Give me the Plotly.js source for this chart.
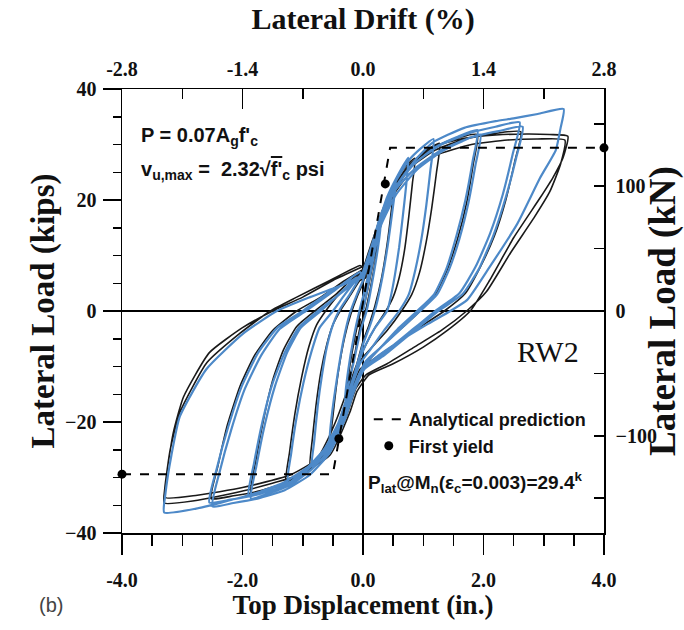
<!DOCTYPE html>
<html>
<head>
<meta charset="utf-8">
<script src="https://cdn.plot.ly/plotly-3.0.1.min.js"></script>
<style>html,body{margin:0;padding:0;background:#fff;}#chart{width:684px;height:630px;}</style>
</head>
<body>
<div id="chart"></div>
<script>
// ---------- data ----------
// Experimental response (black): top displacement (in.) and lateral load (kips)
const expX = [
  0, 0.1, 0.2, 0.27, 0.22, 0.12, 0.04, -0.05, -0.15, -0.27, -0.22, -0.12, -0.04, 0,
  0, 0.1, 0.2, 0.32, 0.42, 0.52, 0.48, 0.4, 0.3, 0.2, 0.1, 0, -0.1, -0.2, -0.32, -0.44, -0.54, -0.5, -0.41, -0.3, -0.2, -0.1, 0,
  0, 0.1, 0.22, 0.36, 0.5, 0.66, 0.86, 0.82, 0.76, 0.69, 0.6, 0.5, 0.38, 0.2, 0.05, -0.1, -0.25, -0.42, -0.6, -0.75, -0.88, -0.84, -0.78, -0.7, -0.6, -0.5, -0.38, -0.2, -0.05,
  0.05, 0.15, 0.3, 0.5, 0.75, 1.0, 1.27, 1.22, 1.14, 1.05, 0.94, 0.81, 0.64, 0.4, 0.15, -0.05, -0.2, -0.36, -0.55, -0.8, -1.05, -1.28, -1.22, -1.13, -1.02, -0.9, -0.77, -0.62, -0.4, -0.15, 0,
  0, 0.15, 0.3, 0.5, 0.8, 1.15, 1.5, 1.9, 1.83, 1.72, 1.57, 1.4, 1.2, 0.95, 0.65, 0.3, 0.05, -0.12, -0.3, -0.52, -0.82, -1.2, -1.55, -1.86, -1.78, -1.65, -1.5, -1.32, -1.1, -0.8, -0.45, -0.1,
  0, 0.15, 0.3, 0.5, 0.8, 1.2, 1.7, 2.2, 2.62, 2.52, 2.37, 2.18, 1.95, 1.7, 1.35, 1.0, 0.6, 0.2, -0.05, -0.2, -0.36, -0.58, -0.9, -1.3, -1.75, -2.15, -2.52, -2.41, -2.25, -2.04, -1.8, -1.5, -1.1, -0.7, -0.3, 0,
  0, 0.15, 0.3, 0.42, 0.7, 1.1, 1.68, 2.2, 2.72, 3.1, 3.4, 3.32, 3.15, 2.94, 2.5, 2.1, 1.78, 1.4, 1.0, 0.5, 0.1, -0.1, -0.22, -0.55, -1.1, -1.98, -2.8, -3.3, -3.29, -3.2, -3.04, -2.59, -2.04, -1.54, -1.1, -0.55, -0.05,
  0, 0.15, 0.3, 0.45, 0.75, 1.2, 1.8, 2.4, 2.9, 3.35, 3.28, 3.1, 2.85, 2.45, 2.05, 1.72, 1.3, 0.85, 0.4, 0.05, -0.12, -0.28, -0.6, -1.2, -2.0, -2.75, -3.28, -3.26, -3.15, -2.98, -2.55, -2.0, -1.5, -1.0, -0.5, 0
];
const expY = [
  0, 5, 10.5, 14, 10, 4, 0, -3, -8.5, -14.5, -10, -4, 0, 2,
  2, 6.5, 11, 16.5, 20.5, 23, 19, 12, 5.5, 1, -2.5, -5.5, -9.5, -13.5, -18.5, -22, -23.5, -19, -11, -4.5, -0.5, 2.5, 5,
  5, 9, 13.5, 18.5, 22.5, 25.5, 27.5, 23, 17, 11, 6, 2.5, 0, -3, -6, -9.5, -14, -19, -23.5, -26.5, -28, -23, -17, -11, -6, -2.5, 0, 3, 5.5,
  6, 10.5, 16, 21, 25.5, 28.5, 30.2, 25, 18.5, 12.5, 7, 3, 0, -3.5, -6.5, -9, -13.5, -19, -24, -27.5, -29.7, -31, -25.5, -18.5, -12, -6.5, -2.5, 0, 3, 5.5, 7.5,
  7.5, 12, 17.5, 22.5, 26.5, 29.3, 31, 31.8, 26.5, 19.5, 13, 7.5, 3, 0, -3, -6.5, -9.5, -13.5, -19.5, -24.5, -28, -30.8, -32, -32.8, -27, -19.5, -12.5, -7, -2.8, 0, 3, 6.5,
  6.5, 11.5, 17, 22, 26, 29, 31, 32, 32.3, 27, 20, 13.5, 8, 3.2, 0, -2.5, -5.5, -8.5, -10.5, -14.5, -20, -25, -28.5, -31, -32.5, -33.3, -33.8, -28, -20.5, -13.5, -8, -3.5, 0, 2.5, 5.5, 7.5,
  7.5, 12.5, 17, 20.5, 25.5, 29.4, 31.1, 31.7, 31.9, 31.8, 31.5, 27.6, 24, 20.4, 13.2, 5.5, 0, -3.5, -6.5, -9.5, -11.5, -14.5, -18.3, -26, -29.7, -32.4, -34.2, -34.6, -32, -25, -18.3, -9.3, -4, 0, 2.5, 5.5, 8.2,
  8, 12, 16.5, 20, 24.5, 28, 30, 30.8, 31, 30.8, 26.5, 21.5, 17, 10.5, 3.5, 0, -3.5, -6.5, -9.5, -11.5, -14, -19, -25.5, -29.5, -31.8, -33.2, -33.6, -29.5, -22, -15.5, -7.5, -3, 0, 2.5, 5.5, 8
];
// Model response (blue)
const modelX = [
  0, 0.1, 0.2, 0.3, 0.25, 0.15, 0.06, -0.04, -0.15, -0.3, -0.25, -0.15, -0.06, 0,
  0, 0.12, 0.25, 0.38, 0.55, 0.5, 0.42, 0.32, 0.22, 0.12, 0, -0.12, -0.25, -0.4, -0.56, -0.52, -0.43, -0.32, -0.22, -0.1, 0,
  0, 0.12, 0.25, 0.4, 0.58, 0.75, 0.72, 0.66, 0.6, 0.53, 0.46, 0.4, 0.2, 0.05, -0.1, -0.25, -0.42, -0.62, -0.85, -0.81, -0.75, -0.68, -0.6, -0.5, -0.4, -0.22, -0.08, 0,
  0, 0.15, 0.3, 0.5, 0.75, 0.95, 1.17, 1.12, 1.05, 0.97, 0.87, 0.76, 0.6, 0.35, 0.12, -0.05, -0.2, -0.4, -0.65, -0.95, -1.25, -1.19, -1.1, -0.99, -0.86, -0.72, -0.5, -0.3, -0.12, 0,
  0, 0.15, 0.32, 0.55, 0.85, 1.2, 1.55, 1.9, 1.82, 1.7, 1.55, 1.38, 1.18, 0.9, 0.6, 0.3, 0.05, -0.12, -0.3, -0.55, -0.85, -1.2, -1.55, -1.86, -1.77, -1.63, -1.46, -1.26, -1.03, -0.7, -0.4, -0.1,
  0, 0.15, 0.3, 0.55, 0.9, 1.3, 1.65, 1.95, 1.87, 1.75, 1.6, 1.43, 1.23, 0.95, 0.65, 0.3, 0.05, -0.12, -0.3, -0.55, -0.9, -1.3, -1.65, -1.9, -1.81, -1.67, -1.5, -1.3, -1.07, -0.75, -0.45, -0.1,
  0, 0.15, 0.32, 0.55, 0.85, 1.25, 1.75, 2.2, 2.6, 2.49, 2.32, 2.11, 1.87, 1.6, 1.2, 0.75, 0.3, 0.02, -0.15, -0.32, -0.55, -0.88, -1.3, -1.75, -2.15, -2.5, -2.38, -2.19, -1.96, -1.69, -1.38, -0.95, -0.5, -0.05,
  0, 0.15, 0.32, 0.55, 0.9, 1.3, 1.8, 2.25, 2.65, 2.54, 2.37, 2.16, 1.92, 1.65, 1.25, 0.8, 0.35, 0.02, -0.15, -0.32, -0.56, -0.9, -1.35, -1.8, -2.2, -2.55, -2.43, -2.24, -2.01, -1.74, -1.42, -1.0, -0.55, 0,
  0, 0.15, 0.32, 0.55, 0.85, 1.15, 1.68, 2.2, 2.5, 2.9, 3.33, 3.28, 3.2, 2.94, 2.56, 2.1, 1.73, 1.45, 1.05, 0.6, 0.2, -0.02, -0.2, -0.55, -1.1, -1.93, -2.77, -3.3, -3.28, -3.18, -3.04, -2.6, -1.98, -1.43, -0.88, -0.27, 0
];
const modelY = [
  0, 5.5, 11, 16, 11.5, 5, 0, -3.5, -9, -16, -11, -4.5, 0, 2.5,
  2.5, 8, 13.5, 18.5, 23.5, 19, 12.5, 6, 1, -2.5, -6, -10.5, -15.5, -20, -24, -19, -12, -5, -0.5, 3, 5.5,
  5.5, 10.5, 15.5, 20.5, 24.5, 27.6, 23, 17, 11.5, 6.5, 2.5, 0, -3, -6, -10, -15, -20.5, -25, -28, -23.5, -17, -11.5, -6.5, -2.5, 0, 3, 5.5, 7,
  7, 12, 17.5, 22.5, 27, 29.2, 31, 25.5, 19, 13, 7.5, 3, 0, -3.5, -7, -9.5, -14, -20, -25, -28.5, -31, -25.5, -19, -13, -7.5, -3, 0, 3, 5.5, 7,
  7, 12, 17.5, 22.5, 26.5, 29.5, 31.3, 32.6, 27, 20, 13.5, 7.5, 3, 0, -3, -6.5, -9.5, -13.5, -19.5, -25, -28.5, -31.3, -32.8, -33.8, -28, -20.5, -13.5, -7.5, -3, 0, 3, 6,
  6, 10.5, 15.5, 21, 25.5, 28.7, 30.6, 31.8, 26.5, 19.5, 13, 7.5, 3, 0, -3, -6.5, -9, -13, -19, -24.5, -28, -30.8, -32.3, -33.2, -27.5, -20, -13, -7.5, -3, 0, 2.5, 5.5,
  6.5, 11.5, 17, 22.5, 26.5, 29.7, 32, 33.2, 34, 28.5, 21, 14, 8, 3.2, 0, -4, -8, -10.5, -14.5, -20, -25.5, -29.5, -32.3, -33.8, -34.6, -35.2, -29, -21.5, -14, -8, -3.2, 0, 3.5, 7,
  6.5, 11, 16.5, 22, 26, 29, 31.3, 32.4, 33.2, 27.5, 20.5, 13.5, 7.5, 3, 0, -4, -8, -10.5, -14, -19.5, -25, -29, -31.7, -33.2, -34, -34.5, -28.5, -21, -13.5, -7.5, -3, 0, 3.5, 6.5,
  6.5, 11.5, 17, 22.5, 27, 30.3, 33, 34.2, 34.7, 35.5, 36.4, 33, 29, 24, 15.7, 7.9, 2, 0, -2.5, -5.5, -8.5, -10.5, -15, -24.3, -30.2, -33.3, -35.6, -36.3, -33, -26, -19, -10.5, -4, 0, 2.5, 5, 6.4
];
// Analytical prediction (dashed) and first-yield points
const predX = [-4.0, -0.5, 0.45, 4.0];
const predY = [-29.4, -29.4, 29.4, 29.4];
const yieldX = [0.37, -0.4];
const yieldY = [22.9, -23.0];
// Axis ticks and labels
const dispTicks = [-4, -2, 0, 2, 4];
const dispLabels = ['-4.0', '-2.0', '0.0', '2.0', '4.0'];
const driftTicks = [-2.8, -1.4, 0, 1.4, 2.8];
const driftLabels = ['-2.8', '-1.4', '0.0', '1.4', '2.8'];
const kipTicks = [-40, -20, 0, 20, 40];
const kNTicks = [-100, 0, 100];
const KIP_TO_KN = 4.44822;
const DRIFT_PER_IN = 0.7;

// ---------- chart ----------
const serif = 'Liberation Serif, Times New Roman, serif';
const sans = 'Liberation Sans, Arial, sans-serif';
const tickFont = {family: serif, size: 20, weight: 'bold', color: '#111'};

const traces = [
  {x: expX, y: expY, mode: 'lines', line: {color: '#1a1a1a', width: 1.6, shape: 'spline', smoothing: 0.5},
   showlegend: false, hoverinfo: 'skip', name: 'Experiment'},
  {x: modelX, y: modelY, mode: 'lines', line: {color: '#4d89c8', width: 2.2, shape: 'spline', smoothing: 0.5},
   showlegend: false, hoverinfo: 'skip', name: 'Model'},
  {x: predX, y: predY, mode: 'lines', line: {color: '#000', width: 2, dash: 'dash'},
   name: 'Analytical prediction', showlegend: true},
  {x: yieldX, y: yieldY, mode: 'markers', marker: {color: '#000', size: 9},
   name: 'First yield', showlegend: true},
  {x: [predX[0], predX[predX.length - 1]], y: [predY[0], predY[predY.length - 1]], mode: 'markers',
   marker: {color: '#000', size: 9}, showlegend: false, cliponaxis: false, hoverinfo: 'skip'},
  {x: [], y: [], xaxis: 'x2', yaxis: 'y', mode: 'markers', showlegend: false, hoverinfo: 'skip'},
  {x: [], y: [], xaxis: 'x', yaxis: 'y2', mode: 'markers', showlegend: false, hoverinfo: 'skip'}
];

const axisLine = {showline: true, linecolor: '#000', linewidth: 1.5, showgrid: false,
  tickcolor: '#000', tickwidth: 1.5, tickfont: tickFont};

const layout = {
  width: 684, height: 630,
  margin: {l: 122, r: 80, t: 89, b: 97, pad: 0},
  paper_bgcolor: '#fff', plot_bgcolor: '#fff',
  showlegend: true,
  legend: {x: 0.512, y: 0.297, xanchor: 'left', yanchor: 'top', bgcolor: 'rgba(0,0,0,0)',
    font: {family: sans, size: 18, weight: 'bold', color: '#111'}, itemwidth: 30, tracegroupgap: 0},
  xaxis: Object.assign({}, axisLine, {
    range: [-4, 4], tickmode: 'array', tickvals: dispTicks, ticktext: dispLabels,
    ticks: 'outside', ticklen: 20, ticklabelstandoff: 8,
    minor: {dtick: 0.5, ticks: 'outside', ticklen: 11, tickwidth: 1.5, tickcolor: '#000'},
    zeroline: true, zerolinecolor: '#000', zerolinewidth: 1.5,
    title: {text: 'Top Displacement (in.)', font: {family: serif, size: 27, weight: 'bold', color: '#111'}, standoff: 0}
  }),
  yaxis: Object.assign({}, axisLine, {
    range: [-40, 40], tickmode: 'array', tickvals: kipTicks,
    ticks: 'outside', ticklen: 18, ticklabelstandoff: 2,
    minor: {dtick: 5, ticks: 'outside', ticklen: 8, tickwidth: 1.5, tickcolor: '#000'},
    zeroline: true, zerolinecolor: '#000', zerolinewidth: 1.5,
    title: {text: 'Lateral Load (kips)', font: {family: serif, size: 33, weight: 'bold', color: '#111'}, standoff: 0}
  }),
  xaxis2: Object.assign({}, axisLine, {
    overlaying: 'x', side: 'top', anchor: 'y',
    range: [-4 * DRIFT_PER_IN, 4 * DRIFT_PER_IN], tickmode: 'array', tickvals: driftTicks, ticktext: driftLabels,
    ticks: 'inside', ticklen: 20, ticklabelstandoff: 4,
    minor: {dtick: 0.7, ticks: 'inside', ticklen: 10, tickwidth: 1.5, tickcolor: '#000'},
    zeroline: false,
    title: {text: 'Lateral Drift (%)', font: {family: serif, size: 30, weight: 'bold', color: '#111'}, standoff: 19}
  }),
  yaxis2: Object.assign({}, axisLine, {
    overlaying: 'y', side: 'right', anchor: 'x',
    range: [-40 * KIP_TO_KN, 40 * KIP_TO_KN], tickmode: 'array', tickvals: kNTicks,
    ticks: 'inside', ticklen: 10, ticklabelstandoff: 6,
    minor: {dtick: 50, ticks: 'inside', ticklen: 10, tickwidth: 1.5, tickcolor: '#000'},
    zeroline: false,
    title: {text: 'Lateral Load (kN)', font: {family: serif, size: 37, weight: 'bold', color: '#111'}, standoff: 9}
  }),
  annotations: [
    {xref: 'paper', yref: 'paper', x: 0.035, y: 0.892, xanchor: 'left', yanchor: 'middle', showarrow: false,
     text: "P = 0.07A<sub>g</sub>f'<sub>c</sub>", font: {family: sans, size: 20, weight: 'bold', color: '#111'}},
    {xref: 'paper', yref: 'paper', x: 0.035, y: 0.816, xanchor: 'left', yanchor: 'middle', showarrow: false,
     text: "v<sub>u,max</sub> =  2.32√<span style=\"text-decoration:overline\">f'</span><sub>c</sub> psi",
     font: {family: sans, size: 20, weight: 'bold', color: '#111'}},
    {xref: 'paper', yref: 'paper', x: 0.952, y: 0.408, xanchor: 'right', yanchor: 'middle', showarrow: false,
     text: 'RW2', font: {family: serif, size: 30, color: '#111'}},
    {xref: 'paper', yref: 'paper', x: 0.506, y: 0.113, xanchor: 'left', yanchor: 'middle', showarrow: false,
     text: 'P<sub>lat</sub>@M<sub>n</sub>(ε<sub>c</sub>=0.003)=29.4<sup>k</sup>',
     font: {family: sans, size: 19, weight: 'bold', color: '#111'}},
    {xref: 'paper', yref: 'paper', x: -0.176, y: -0.162, xanchor: 'left', yanchor: 'middle', showarrow: false,
     text: '(b)', font: {family: sans, size: 20, color: '#444'}}
  ]
};

Plotly.newPlot('chart', traces, layout, {staticPlot: true, displayModeBar: false});
</script>
</body>
</html>
